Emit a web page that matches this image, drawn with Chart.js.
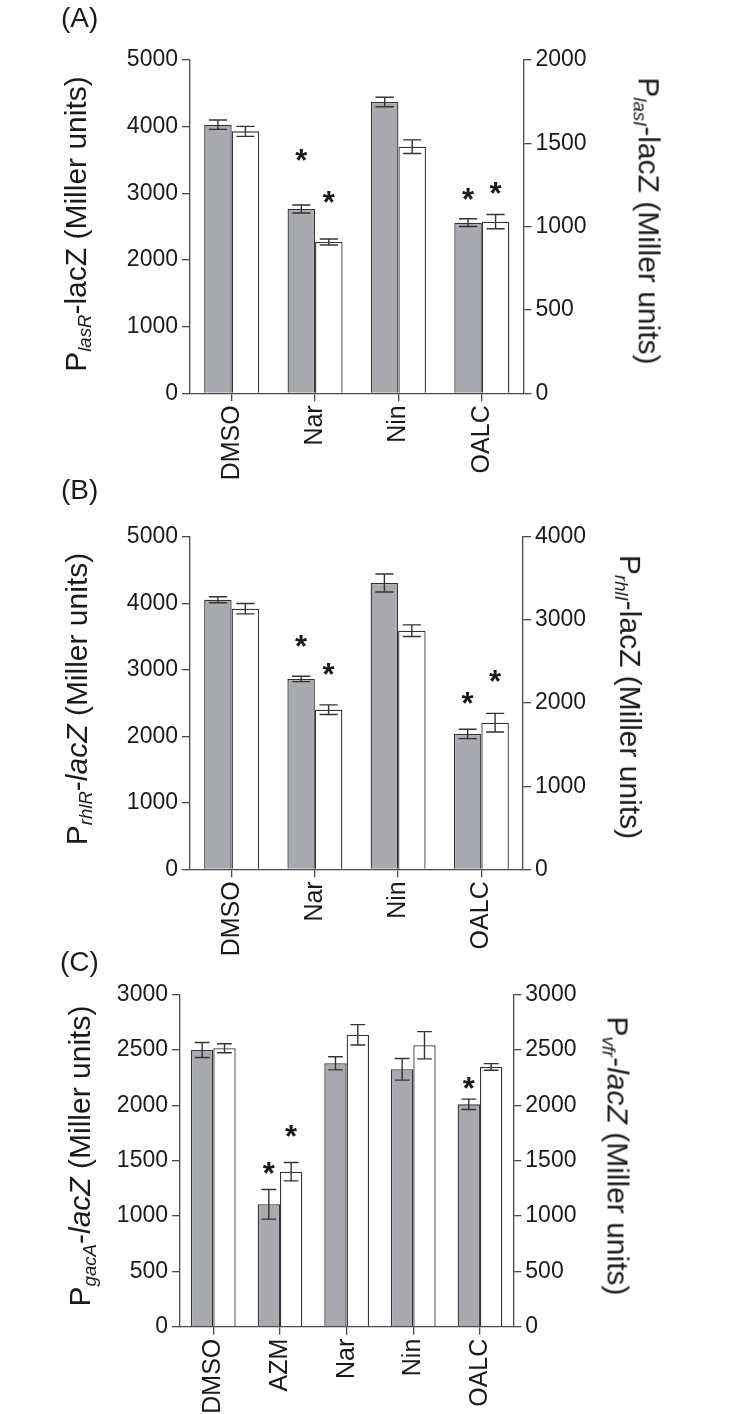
<!DOCTYPE html>
<html>
<head>
<meta charset="utf-8">
<script src="https://cdn.jsdelivr.net/npm/chart.js@4"></script>
<style>
  html, body { margin:0; padding:0; background:#fff; }
  body { width:733px; height:1414px; position:relative; overflow:hidden; font-family:'Liberation Sans', Arial, sans-serif; color:#1a1a1a; }
  canvas { position:absolute; left:0; }
  .lbl { position:absolute; font-size:28px; line-height:28px; white-space:nowrap; }
  .ttl { position:absolute; font-size:30px; line-height:30px; white-space:nowrap; transform-origin:center center; }
  .ttl sub { font-size:0.62em; font-style:italic; line-height:0; vertical-align:-0.28em; }
  .ttl i { font-style:italic; }
</style>
</head>
<body>
<canvas id="cA" width="733" height="500" style="top:0px"></canvas>
<canvas id="cB" width="733" height="490" style="top:470px"></canvas>
<canvas id="cC" width="733" height="484" style="top:930px"></canvas>

<div class="lbl" style="left:61px;top:4px">(A)</div>
<div class="lbl" style="left:61px;top:476px">(B)</div>
<div class="lbl" style="left:60px;top:948px">(C)</div>

<div class="ttl" id="tAL">P<sub>lasR</sub>-lacZ (Miller units)</div>
<div class="ttl" id="tAR">P<sub>lasI</sub>-lacZ (Miller units)</div>
<div class="ttl" id="tBL">P<sub>rhlR</sub>-<i>lacZ</i> (Miller units)</div>
<div class="ttl" id="tBR">P<sub>rhlI</sub>-lacZ (Miller units)</div>
<div class="ttl" id="tCL">P<sub>gacA</sub>-<i>lacZ</i> (Miller units)</div>
<div class="ttl" id="tCR">P<sub>vfr</sub>-<i>lacZ</i> (Miller units)</div>

<script>
// ---------------- data ----------------
const catsAB = ['DMSO', 'Nar', 'Nin', 'OALC'];
const catsC  = ['DMSO', 'AZM', 'Nar', 'Nin', 'OALC'];

// Panel A
const lasR     = [4030, 2765, 4370, 2560];
const lasRErr  = [70, 60, 72, 58];
const lasRStar = [null, 3600, null, 3015];
const lasI     = [1572, 908, 1480, 1030];
const lasIErr  = [30, 18, 41, 43];
const lasIStar = [null, 1190, null, 1244];

// Panel B
const rhlR     = [4054, 2862, 4305, 2035];
const rhlRErr  = [45, 40, 135, 70];
const rhlRStar = [null, 3463, null, 2606];
const rhlI     = [3135, 1920, 2870, 1764];
const rhlIErr  = [62, 58, 70, 112];
const rhlIStar = [null, 2437, null, 2346];

// Panel C
const gacA     = [2500, 1106, 2380, 2326, 2009];
const gacAErr  = [68, 134, 59, 98, 47];
const gacAStar = [null, 1452, null, null, 2220];
const vfr      = [2516, 1401, 2638, 2543, 2347];
const vfrErr   = [41, 83, 92, 123, 30];
const vfrStar  = [null, 1789, null, null, null];

// axis ranges [max, step]
const axisAL = [5000, 1000];
const axisAR = [2000, 500];
const axisBL = [5000, 1000];
const axisBR = [4000, 1000];
const axisCL = [3000, 500];
const axisCR = [3000, 500];

// ---------------- drawing ----------------
const FONT = "'Liberation Sans', Arial, sans-serif";
const INK = '#1a1a1a';
const AXIS = '#4a4a4a';
const GRAY = '#a9aaaf';

const errPlugin = {
  id: 'errStars',
  afterDatasetsDraw(chart) {
    const ctx = chart.ctx;
    ctx.save();
    chart.data.datasets.forEach((ds, i) => {
      const meta = chart.getDatasetMeta(i);
      const sc = chart.scales[meta.yAxisID];
      meta.data.forEach((el, j) => {
        const v = ds.data[j], e = ds.errors[j];
        const x = el.x, w = el.width;
        const yt = sc.getPixelForValue(v + e), yb = sc.getPixelForValue(v - e);
        const cap = w * 0.33;
        ctx.strokeStyle = '#333';
        ctx.lineWidth = 1.4;
        ctx.beginPath();
        ctx.moveTo(x, yt); ctx.lineTo(x, yb);
        ctx.moveTo(x - cap, yt); ctx.lineTo(x + cap, yt);
        ctx.moveTo(x - cap, yb); ctx.lineTo(x + cap, yb);
        ctx.stroke();
        const s = ds.stars[j];
        if (s != null) {
          const fs = 31;
          ctx.fillStyle = INK;
          ctx.font = 'bold ' + fs + 'px ' + FONT;
          ctx.textAlign = 'center';
          ctx.textBaseline = 'alphabetic';
          ctx.fillText('*', x, sc.getPixelForValue(s) + 0.575 * fs);
        }
      });
    });
    ctx.restore();
  }
};

function makeChart(id, cats, left, right, axL, axR, g) {
  const yAxis = (ax, pos, width) => ({
    type: 'linear', position: pos, min: 0, max: ax[0],
    border: { display: true, color: AXIS, width: 1.3 },
    grid: { display: true, drawOnChartArea: false, drawTicks: true, tickLength: 8, color: AXIS, lineWidth: 1.3 },
    ticks: { stepSize: ax[1], padding: 4, color: INK, font: { family: FONT, size: 23 },
             callback: v => String(v) },
    afterFit(s) { s.width = width; }
  });
  return new Chart(document.getElementById(id), {
    type: 'bar',
    data: {
      labels: cats,
      datasets: [
        { data: left.data, errors: left.err, stars: left.star, yAxisID: 'yL',
          backgroundColor: GRAY, borderColor: '#333', borderWidth: 1.3 },
        { data: right.data, errors: right.err, stars: right.star, yAxisID: 'yR',
          backgroundColor: '#ffffff', borderColor: '#333', borderWidth: 1.3 }
      ]
    },
    options: {
      responsive: false, animation: false, events: [],
      categoryPercentage: g.cat, barPercentage: 1.0,
      layout: { padding: { top: g.top, left: 0, right: 0, bottom: 0 } },
      plugins: { legend: { display: false }, tooltip: { enabled: false } },
      scales: {
        x: {
          type: 'category', offset: true,
          border: { display: true, color: AXIS, width: 1.3 },
          grid: { display: true, drawOnChartArea: false, drawTicks: true, tickLength: 8, offset: false, color: AXIS, lineWidth: 1.3 },
          ticks: { minRotation: 90, maxRotation: 90, padding: 4, color: INK, font: { family: FONT, size: 25 } },
          afterFit(s) { s.height = g.xh; }
        },
        yL: yAxis(axL, 'left', g.lw),
        yR: yAxis(axR, 'right', g.rw)
      }
    },
    plugins: [errPlugin]
  });
}

makeChart('cA', catsAB,
  { data: lasR, err: lasRErr, star: lasRStar },
  { data: lasI, err: lasIErr, star: lasIStar },
  axisAL, axisAR, { top: 60, xh: 500 - 393.3, lw: 190, rw: 733 - 523.5, cat: 0.66 });

makeChart('cB', catsAB,
  { data: rhlR, err: rhlRErr, star: rhlRStar },
  { data: rhlI, err: rhlIErr, star: rhlIStar },
  axisBL, axisBR, { top: 66.8, xh: 490 - 399.3, lw: 190, rw: 733 - 523, cat: 0.66 });

makeChart('cC', catsC,
  { data: gacA, err: gacAErr, star: gacAStar },
  { data: vfr, err: vfrErr, star: vfrStar },
  axisCL, axisCR, { top: 64.7, xh: 484 - 396.7, lw: 180, rw: 733 - 513.3, cat: 0.67 });

// axis titles (rotated text) centred at given points
function place(id, cx, cy, rot) {
  const el = document.getElementById(id);
  const w = el.offsetWidth, h = el.offsetHeight;
  el.style.left = (cx - w / 2) + 'px';
  el.style.top = (cy - h / 2) + 'px';
  el.style.transform = 'rotate(' + rot + 'deg)';
}
place('tAL', 76, 224, -90);
place('tAR', 648, 221, 90);
place('tBL', 77, 699, -90);
place('tBR', 630, 697, 90);
place('tCL', 80, 1156, -90);
place('tCR', 617, 1156, 90);
</script>
</body>
</html>
